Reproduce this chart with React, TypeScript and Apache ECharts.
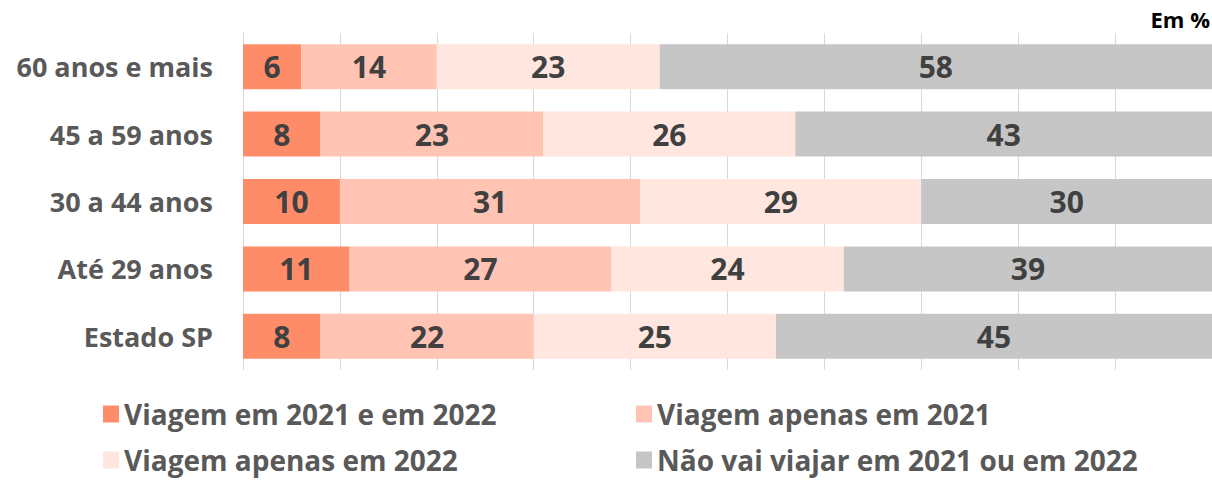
import React, { useEffect, useRef } from "react";
import * as echarts from "echarts";

const categories = ["60 anos e mais", "45 a 59 anos", "30 a 44 anos", "Até 29 anos", "Estado SP"];
const seriesNames = [
  "Viagem em 2021 e em 2022",
  "Viagem apenas em 2021",
  "Viagem apenas em 2022",
  "Não vai viajar em 2021 ou em 2022",
];
const both = [6, 8, 10, 11, 8];
const only2021 = [14, 23, 31, 27, 22];
const only2022 = [23, 26, 29, 24, 25];
const none = [58, 43, 30, 39, 45];
const colors = ["#FF8C69", "#FFC4B4", "#FFE6DF", "#C6C6C6"];

const FONT = "Open Sans";

export default function App() {
  const ref = useRef<HTMLDivElement>(null);
  useEffect(() => {
    if (!ref.current) return;
    const chart = echarts.init(ref.current, null, { renderer: "svg" });
    const values = [both, only2021, only2022, none];
    const legendPos = [
      { left: 103, top: 400 },
      { left: 636, top: 400 },
      { left: 103, top: 446 },
      { left: 636, top: 446 },
    ];
    chart.setOption({
      animation: false,
      textStyle: { fontFamily: FONT },
      grid: { left: 243, right: 0, top: 33, bottom: 110, containLabel: false },
      xAxis: {
        type: "value",
        min: 0,
        max: 100,
        interval: 10,
        axisLabel: { show: false },
        axisLine: { show: false },
        axisTick: { show: false },
        splitLine: { show: true, lineStyle: { color: "#D9D9D9", width: 1 } },
      },
      yAxis: {
        type: "category",
        inverse: true,
        data: categories,
        axisLine: { show: true, lineStyle: { color: "#D9D9D9" } },
        axisTick: { show: false },
        axisLabel: {
          margin: 30,
          color: "#595959",
          fontFamily: FONT,
          fontWeight: "bold",
          fontSize: 27,
        },
      },
      legend: seriesNames.map((n, i) => ({
        data: [n],
        left: legendPos[i].left,
        top: legendPos[i].top,
        padding: 0,
        itemWidth: 16,
        itemHeight: 17,
        itemGap: 10,
        icon: "rect",
        selectedMode: false,
        textStyle: {
          color: "#595959",
          fontFamily: FONT,
          fontWeight: "bold",
          fontSize: 28,
          lineHeight: 28,
        },
      })),
      graphic: [
        {
          type: "text",
          right: 2,
          top: 8,
          style: { text: "Em %", fill: "#000", font: `bold 22px "${FONT}"` },
        },
      ],
      series: values.map((v, i) => ({
        name: seriesNames[i],
        type: "bar",
        stack: "total",
        data: v,
        barWidth: 45,
        itemStyle: { color: colors[i] },
        label: {
          show: true,
          position: "inside",
          color: "#404040",
          fontFamily: FONT,
          fontWeight: "bold",
          fontSize: 30,
        },
      })),
    });
    return () => chart.dispose();
  }, []);
  return (
    <div
      ref={ref}
      style={{ position: "fixed", left: 0, top: 0, width: 1212, height: 480, background: "#fff" }}
    />
  );
}
